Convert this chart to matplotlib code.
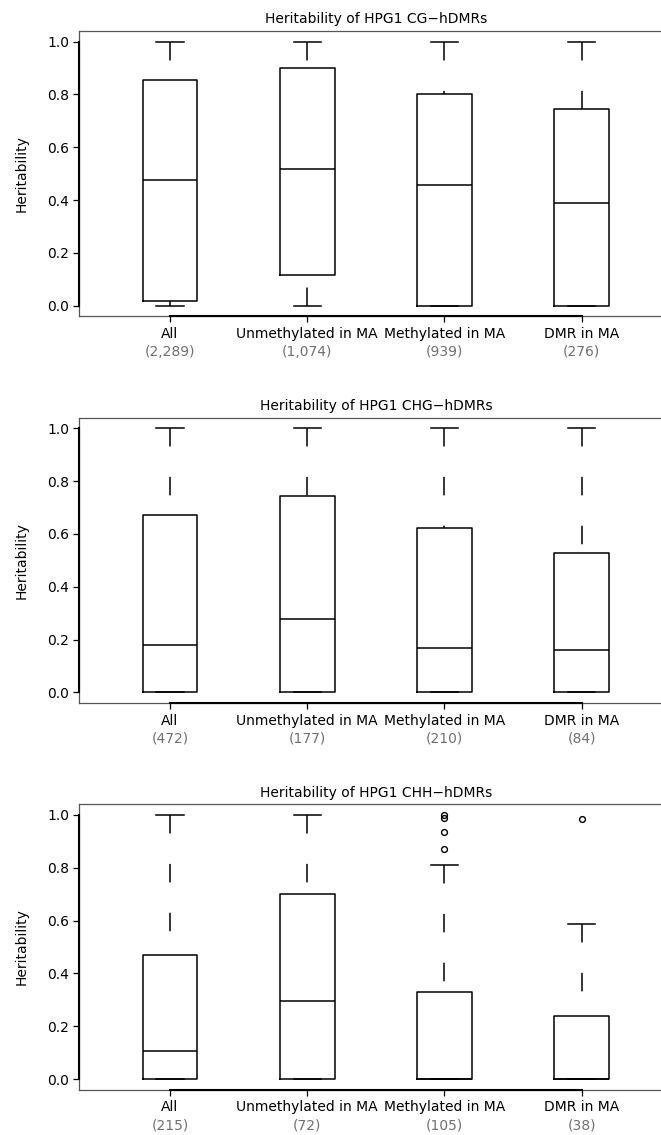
import matplotlib
matplotlib.use("Agg")
import matplotlib.pyplot as plt

plt.rcParams['font.family'] = ['DejaVu Sans']
plt.rcParams['font.size'] = 10
plt.rcParams['lines.scale_dashes'] = False

categories = ["All", "Unmethylated in MA", "Methylated in MA", "DMR in MA"]

titles = ["Heritability of HPG1 CG\u2212hDMRs",
          "Heritability of HPG1 CHG\u2212hDMRs",
          "Heritability of HPG1 CHH\u2212hDMRs"]

counts_cg = ["2,289", "1,074", "939", "276"]
counts_chg = ["472", "177", "210", "84"]
counts_chh = ["215", "72", "105", "38"]

# five-number summaries per context
q1_cg = [0.019, 0.117, 0.0, 0.0]
med_cg = [0.477, 0.518, 0.457, 0.388]
q3_cg = [0.856, 0.900, 0.801, 0.746]
lo_cg = [0.0, 0.0, 0.0, 0.0]
hi_cg = [1.0, 1.0, 1.0, 1.0]
out_cg = [[], [], [], []]

q1_chg = [0.0, 0.0, 0.0, 0.0]
med_chg = [0.178, 0.278, 0.166, 0.161]
q3_chg = [0.670, 0.743, 0.623, 0.527]
lo_chg = [0.0, 0.0, 0.0, 0.0]
hi_chg = [1.0, 1.0, 1.0, 1.0]
out_chg = [[], [], [], []]

q1_chh = [0.0, 0.0, 0.0, 0.0]
med_chh = [0.108, 0.296, 0.0, 0.0]
q3_chh = [0.469, 0.702, 0.331, 0.237]
lo_chh = [0.0, 0.0, 0.0, 0.0]
hi_chh = [1.0, 1.0, 0.812, 0.588]
out_chh = [[], [], [1.0, 0.99, 0.935, 0.872], [0.986]]

panels = [
    (q1_cg, med_cg, q3_cg, lo_cg, hi_cg, out_cg, counts_cg),
    (q1_chg, med_chg, q3_chg, lo_chg, hi_chg, out_chg, counts_chg),
    (q1_chh, med_chh, q3_chh, lo_chh, hi_chh, out_chh, counts_chh),
]

W, H = 661, 1135
fig = plt.figure(figsize=(W / 100, H / 100), dpi=100)

left = 79.4 / W
width = 592.9 / W
bottoms = [0.7213, 0.3807, 0.0400]
height = 285.3 / H

for k, (q1, med, q3, lo, hi, out, counts) in enumerate(panels):
    ax = fig.add_axes([left, bottoms[k], width, height])
    stats = []
    for i in range(4):
        stats.append(dict(q1=q1[i], med=med[i], q3=q3[i], whislo=lo[i],
                          whishi=hi[i], fliers=out[i]))
    pos = [1, 2, 3, 4]
    res = ax.bxp(stats, positions=pos, widths=0.4, showfliers=True,
                 boxprops=dict(color="black", lw=1.1),
                 medianprops=dict(color="black", lw=1.1),
                 whiskerprops=dict(color="black", lw=1.1, linestyle=(0, (13.3, 21.9))),
                 capprops=dict(color="black", lw=1.1),
                 flierprops=dict(marker="o", markersize=4.2, markerfacecolor="none",
                                 markeredgecolor="black", markeredgewidth=1.0),
                 capwidths=0.2)
    # R draws whiskers starting from the whisker end
    for wl in res["whiskers"]:
        wl.set_xdata(wl.get_xdata()[::-1])
        wl.set_ydata(wl.get_ydata()[::-1])

    ax.set_xlim(0.34, 4.66)
    ax.set_ylim(-0.04, 1.04)
    ax.set_yticks([0.0, 0.2, 0.4, 0.6, 0.8, 1.0])
    ax.set_yticklabels(["0.0", "0.2", "0.4", "0.6", "0.8", "1.0"])
    ax.set_xticks(pos)
    ax.set_xticklabels(categories)
    ax.tick_params(direction="out", length=4.3, width=0.9, pad=3.2, colors="black")
    ax.tick_params(axis="x", pad=3.4)

    for s in ["top", "left", "bottom"]:
        ax.spines[s].set_color("#555555")
        ax.spines[s].set_linewidth(0.9)
    ax.spines["right"].set_visible(False)
    # axis lines spanning the tick range
    ax.plot([0.34, 0.34], [0, 1], color="black", lw=1.5, clip_on=False, zorder=5)
    ax.plot([1, 4], [-0.04, -0.04], color="black", lw=1.5, clip_on=False, zorder=5)

    for i, n in enumerate(counts):
        ax.annotate("(" + n + ")", xy=(pos[i], 0), xycoords=("data", "axes fraction"),
                    xytext=(0, -20.5), textcoords="offset points",
                    ha="center", va="top", color="#707070")

    ax.set_title(titles[k], pad=5.5, fontsize=10)
    ax.set_ylabel("Heritability", va="center")
    ax.yaxis.set_label_coords(-0.0973, 0.5)

fig.savefig("out.png", dpi=100)
